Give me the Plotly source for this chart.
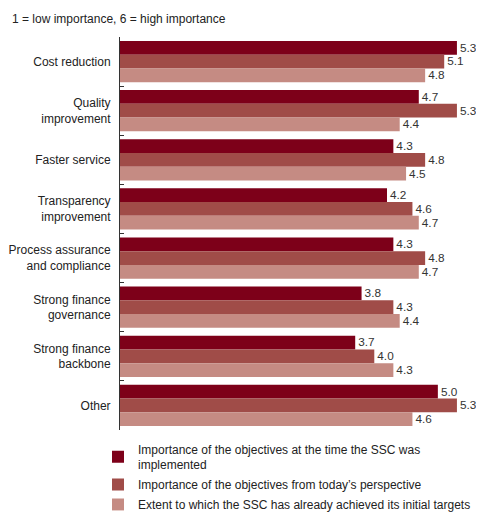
import plotly.graph_objects as go

categories = ["Cost reduction", "Quality<br>improvement", "Faster service",
              "Transparency<br>improvement", "Process assurance<br>and compliance",
              "Strong finance<br>governance", "Strong finance<br>backbone", "Other"]
series_names = ["Importance of the objectives at the time the SSC was<br>implemented",
                "Importance of the objectives from today’s perspective",
                "Extent to which the SSC has already achieved its initial targets"]
at_implementation = [5.3, 4.7, 4.3, 4.2, 4.3, 3.8, 3.7, 5.0]
today = [5.1, 5.3, 4.8, 4.6, 4.8, 4.3, 4.0, 5.3]
achieved = [4.8, 4.4, 4.5, 4.7, 4.7, 4.4, 4.3, 4.6]
colors = ["#7d0019", "#a04c48", "#c58b83"]

fig = go.Figure()
for i, (name, vals, col) in enumerate(zip(series_names, [at_implementation, today, achieved], colors)):
    fig.add_trace(go.Bar(
        y=categories, x=vals, orientation="h", name=name, legendgroup=f"g{i}",
        marker=dict(color=col, line=dict(width=0)),
        text=[f"{v:.1f}" for v in vals], textposition="outside",
        textfont=dict(size=12, color="#333333"), cliponaxis=False,
    ))

PW = 356
fig.update_layout(
    width=476, height=504,
    barmode="group", bargap=0.16, bargroupgap=0,
    plot_bgcolor="white", paper_bgcolor="white",
    font=dict(family="Liberation Sans, Arial, sans-serif", size=12, color="#222222"),
    margin=dict(l=112, r=8, t=29, b=82, autoexpand=False),
    showlegend=True,
    legend=dict(x=-22/PW, xanchor="left", y=-0.012, yanchor="top",
                traceorder="grouped", font=dict(size=12, color="#222222"),
                itemwidth=30, tracegroupgap=1, bgcolor="rgba(0,0,0,0)"),
    annotations=[dict(text="1 = low importance, 6 = high importance", xref="paper", yref="paper",
                      x=-110/PW, y=1, yshift=9, xanchor="left", yanchor="bottom",
                      showarrow=False, font=dict(size=12, color="#222222"))],
)
fig.update_xaxes(range=[0, 5.6], visible=False, showgrid=False, zeroline=False, automargin=False)
fig.update_yaxes(autorange="reversed", showline=True, linecolor="#333333", linewidth=1,
                 ticks="inside", tickson="boundaries", ticklen=4, tickcolor="#333333",
                 showgrid=False, ticklabelstandoff=6, automargin=False,
                 tickfont=dict(size=12, color="#222222"))

fig.write_html("out.html")
